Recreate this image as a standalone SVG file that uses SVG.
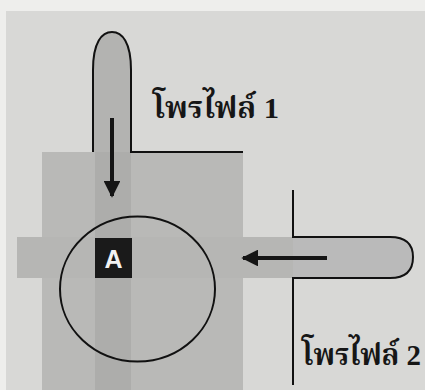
<svg xmlns="http://www.w3.org/2000/svg" width="425" height="390" viewBox="0 0 425 390">
<style>
.ln{fill:none;stroke:#111;stroke-width:2}
.th{font-family:"Liberation Serif","Noto Serif Thai","Noto Sans Thai",serif;font-weight:bold;font-size:30px;fill:#161616}
.arr{stroke:#151515;stroke-width:4;fill:none}
</style>
<defs>
<marker id="ah" viewBox="0 0 10 10" refX="9" refY="5" markerWidth="4.2" markerHeight="4.2" orient="auto" markerUnits="strokeWidth">
<path d="M0,0 L10,5 L0,10 Z" fill="#151515"/>
</marker>
</defs>
<rect x="0" y="0" width="425" height="390" fill="#d8d8d6"/>
<rect x="0" y="0" width="425" height="11" fill="#eeeeec"/>
<rect x="0" y="0" width="6" height="390" fill="#eeeeec"/>
<g id="shaded-area">
<rect x="42" y="152" width="201" height="238" fill="#b9b9b7"/>
<rect x="17" y="237" width="276" height="41" fill="#b6b6b4"/>
<rect x="95" y="152" width="36" height="238" fill="#adadab"/>
</g>
<g id="profile1">
<path d="M93,152 L93,70 C93,42 102,32 112,32 C122,32 131,42 131,70 L131,152 Z" fill="#b3b3b1"/>
<path class="ln" d="M93,152 L93,70 C93,42 102,32 112,32 C122,32 131,42 131,70 L131,152 L243,152"/>
<text class="th" x="153" y="118" textLength="126" lengthAdjust="spacingAndGlyphs">โพรไฟล์ 1</text>
</g>
<g id="profile2">
<path d="M293,237 L390,237 C408,237 413,246 413,257 C413,268 408,278 390,278 L293,278 Z" fill="#bababa"/>
<path class="ln" d="M293,190 L293,237 L390,237 C408,237 413,246 413,257 C413,268 408,278 390,278 L293,278 L293,385"/>
<text class="th" x="302" y="365" textLength="119" lengthAdjust="spacingAndGlyphs">โพรไฟล์ 2</text>
</g>
<g id="regionA">
<ellipse class="ln" cx="137.5" cy="289" rx="77.5" ry="72.5"/>
<rect x="95" y="238" width="37" height="40" fill="#1a1a1a"/>
<text x="113.5" y="268" text-anchor="middle" font-family="Liberation Sans,Arial,sans-serif" font-weight="bold" font-size="25" fill="#f2f2f2">A</text>
</g>
<g id="connectors">
<line class="arr" x1="112" y1="118" x2="112" y2="196" marker-end="url(#ah)"/>
<line class="arr" x1="327" y1="258" x2="243" y2="258" marker-end="url(#ah)"/>
</g>
</svg>
